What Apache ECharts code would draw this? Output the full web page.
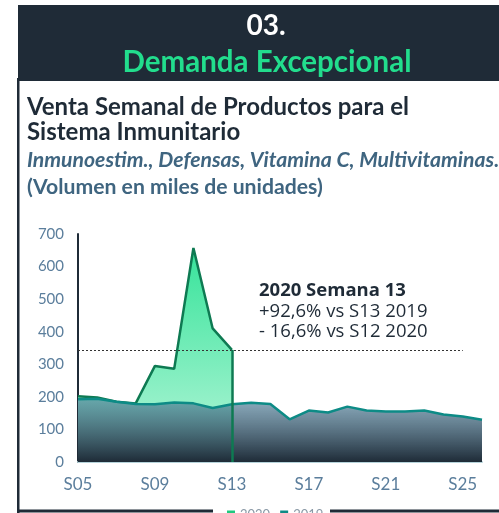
<!DOCTYPE html>
<html><head><meta charset="utf-8">
<script src="https://cdn.jsdelivr.net/npm/echarts@6/dist/echarts.min.js"></script>
<style>html,body{margin:0;padding:0;background:#fff}#c{width:499px;height:513px}</style>
</head><body><div id="c"></div>
<script>
const weeks = ['S05','S06','S07','S08','S09','S10','S11','S12','S13','S14','S15','S16','S17','S18','S19','S20','S21','S22','S23','S24','S25','S26'];
const v2020 = [202,198,185,180,295,286,657,410,344,null,null,null,null,null,null,null,null,null,null,null,null,null];
const v2019 = [193,194,185,178,177,183,180,166,177,182,178,131,158,152,170,158,155,155,158,146,140,130];
const yTicks = [0,100,200,300,400,500,600,700];
const note = ['2020 Semana 13','+92,6% vs S13 2019','- 16,6% vs S12 2020'];
const refValue = 344;

const dark = '#1f2b37';
const chart = echarts.init(document.getElementById('c'), null, {renderer:'canvas'});
chart.setOption({
  animation:false,
  graphic:[
    {type:'rect', shape:{x:18,y:5,width:481,height:76}, style:{fill:dark}},
    {type:'text', style:{x:266,y:26,text:'03.',fill:'#fff',font:'bold 28px Lato',textAlign:'center',textVerticalAlign:'middle'}},
    {type:'text', style:{x:267,y:62,text:'Demanda Excepcional',fill:'#22dd8d',font:'bold 29.5px Lato',textAlign:'center',textVerticalAlign:'middle'}},
    {type:'rect', shape:{x:17,y:78,width:2.5,height:435}, style:{fill:dark}},
    {type:'rect', shape:{x:17,y:509.5,width:196,height:3}, style:{fill:dark}},
    {type:'rect', shape:{x:330,y:509.5,width:169,height:3}, style:{fill:dark}},
    {type:'text', style:{x:27,y:107,text:'Venta Semanal de Productos para el',fill:dark,font:'bold 24px Lato',textVerticalAlign:'middle'}},
    {type:'text', style:{x:27,y:132,text:'Sistema Inmunitario',fill:dark,font:'bold 24px Lato',textVerticalAlign:'middle'}},
    {type:'text', style:{x:27,y:160,text:'Inmunoestim., Defensas, Vitamina C, Multivitaminas...',fill:'#3f6580',font:'italic bold 21.2px Lato',textVerticalAlign:'middle'}},
    {type:'text', style:{x:27,y:187,text:'(Volumen en miles de unidades)',fill:'#3f6580',font:'bold 21.2px Lato',textVerticalAlign:'middle'}},
    {type:'text', style:{x:259,y:291,text:note[0],fill:dark,font:'bold 18.5px "Open Sans"',textVerticalAlign:'middle'}},
    {type:'text', style:{x:259,y:311.5,text:note[1],fill:dark,font:'18.5px "Open Sans"',textVerticalAlign:'middle'}},
    {type:'text', style:{x:259,y:331.5,text:note[2],fill:dark,font:'18.5px "Open Sans"',textVerticalAlign:'middle'}}
  ],
  legend:{left:222, bottom:-13, itemWidth:8, itemHeight:8, itemGap:10, itemStyle:{borderWidth:0}, icon:'rect',
    textStyle:{color:'#8a99a6', fontFamily:'Lato', fontSize:13}, data:['2020','2019']},
  grid:{left:78, right:17, top:234, bottom:51},
  xAxis:{type:'category', data:weeks, boundaryGap:false,
    axisLine:{show:true, lineStyle:{color:'#b5d3da', width:2}},
    axisTick:{show:false},
    axisLabel:{interval:3, color:'#5b7e9c', fontFamily:'Lato', fontSize:17, margin:14},
    splitLine:{show:false}},
  yAxis:{type:'value', min:0, max:700, interval:100,
    axisLine:{show:true, lineStyle:{color:dark, width:2}},
    axisTick:{show:false},
    axisLabel:{color:'#5b7e9c', fontFamily:'Lato', fontSize:15, margin:14},
    splitLine:{show:false}},
  series:[
    {name:'2020', type:'line', data:v2020, symbol:'none', z:2,
      lineStyle:{color:'#0e7a52', width:2.5}, itemStyle:{color:'#1fc97f'},
      areaStyle:{color:{type:'linear',x:0,y:0,x2:0,y2:1,colorStops:[{offset:0,color:'#36e39a'},{offset:1,color:'#b8f6da'}]}, opacity:1},
      markLine:{symbol:'none', silent:true, label:{show:false},
        data:[
          [{coord:['S05',refValue], lineStyle:{color:'#333',type:[2,2],width:1}},{coord:['S25',refValue]}],
          [{coord:['S13',0], lineStyle:{color:'#0e7a52',type:'solid',width:2.5}},{coord:['S13',v2020[8]]}]
        ]}
    },
    {name:'2019', type:'line', data:v2019, symbol:'none', z:3,
      lineStyle:{color:'#0d8b86', width:2.5}, itemStyle:{color:'#0d8b86'},
      areaStyle:{color:{type:'linear',x:0,y:0,x2:0,y2:1,colorStops:[{offset:0,color:'rgba(80,128,155,0.65)'},{offset:1,color:'rgba(30,43,55,1)'}]}, opacity:1}
    }
  ]
});
</script></body></html>
